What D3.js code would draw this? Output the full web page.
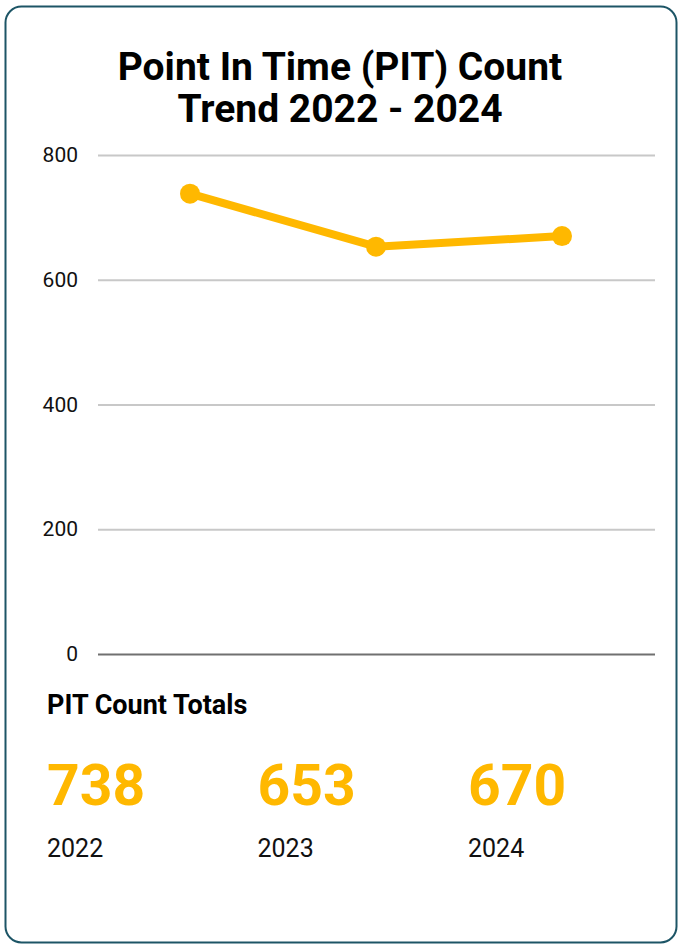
<!DOCTYPE html>
<html>
<head>
<meta charset="utf-8">
<script src="https://cdn.jsdelivr.net/npm/d3@7"></script>
<style>
  body { margin: 0; background: #fff; }
  svg { display: block; font-family: Roboto, "Open Sans", sans-serif; }
</style>
</head>
<body>
<div id="chart"></div>
<script>
// chart data
const years = ["2022", "2023", "2024"];
const pitCounts = [738, 653, 670];
const yTicks = [0, 200, 400, 600, 800];
const titleLines = ["Point In Time (PIT) Count", "Trend 2022 - 2024"];

const WIDTH = 678;
const HEIGHT = 945;
const GOLD = "#ffb800";

const svg = d3.select("#chart")
    .append("svg")
        .attr("width", WIDTH)
        .attr("height", HEIGHT);

// card border
svg.append("rect")
    .attr("x", 5.5).attr("y", 6.5)
    .attr("width", 671).attr("height", 936)
    .attr("rx", 16)
    .attr("fill", "#fff")
    .attr("stroke", "#1d5566")
    .attr("stroke-width", 2);

// title
svg.append("text")
    .attr("x", 340).attr("y", 80)
    .attr("text-anchor", "middle")
    .attr("font-size", 39)
    .attr("font-weight", "bold")
    .selectAll("tspan")
    .data(titleLines)
    .enter()
    .append("tspan")
        .attr("x", 340)
        .attr("dy", (d, i) => i === 0 ? 0 : 42)
        .text(d => d);

// scales
const xScale = d3.scalePoint()
    .domain(years)
    .range([190, 562]);

const yScale = d3.scaleLinear()
    .domain([0, 800])
    .range([654, 155]);

// gridlines + labels
const yAxis = svg.append("g")
    .attr("transform", "translate(98,0)")
    .call(d3.axisLeft(yScale).tickValues(yTicks).tickSize(-557).tickPadding(20).tickFormat(d3.format("d")));
yAxis.select(".domain").remove();
yAxis.selectAll(".tick line")
    .attr("stroke", d => d === 0 ? "#707070" : "#c8c8c8")
    .attr("stroke-width", 2);
yAxis.selectAll(".tick text")
    .attr("font-size", 21)
    .attr("fill", "#111")
    .attr("font-family", "Roboto, sans-serif");

// trend line
const line = d3.line()
    .x((d, i) => xScale(years[i]))
    .y(d => yScale(d));

svg.append("path")
    .datum(pitCounts)
    .attr("d", line)
    .attr("fill", "none")
    .attr("stroke", GOLD)
    .attr("stroke-width", 8)
    .attr("stroke-linejoin", "round");

svg.append("g")
    .selectAll("circle")
    .data(pitCounts)
    .enter()
    .append("circle")
        .attr("cx", (d, i) => xScale(years[i]))
        .attr("cy", d => yScale(d))
        .attr("r", 10)
        .attr("fill", GOLD);

// totals section
svg.append("text")
    .attr("x", 47).attr("y", 714)
    .attr("font-size", 27)
    .attr("font-weight", "bold")
    .text("PIT Count Totals");

const colX = d3.scalePoint()
    .domain(years)
    .range([47, 468]);

const totals = svg.append("g")
    .selectAll("g")
    .data(years)
    .enter()
    .append("g")
        .attr("transform", d => "translate(" + colX(d) + ",0)");

totals.append("text")
    .attr("y", 805)
    .attr("font-size", 57)
    .attr("font-weight", "bold")
    .attr("fill", GOLD)
    .text((d, i) => pitCounts[i]);

totals.append("text")
    .attr("y", 857)
    .attr("font-size", 25)
    .attr("fill", "#111")
    .text(d => d);
</script>
</body>
</html>
